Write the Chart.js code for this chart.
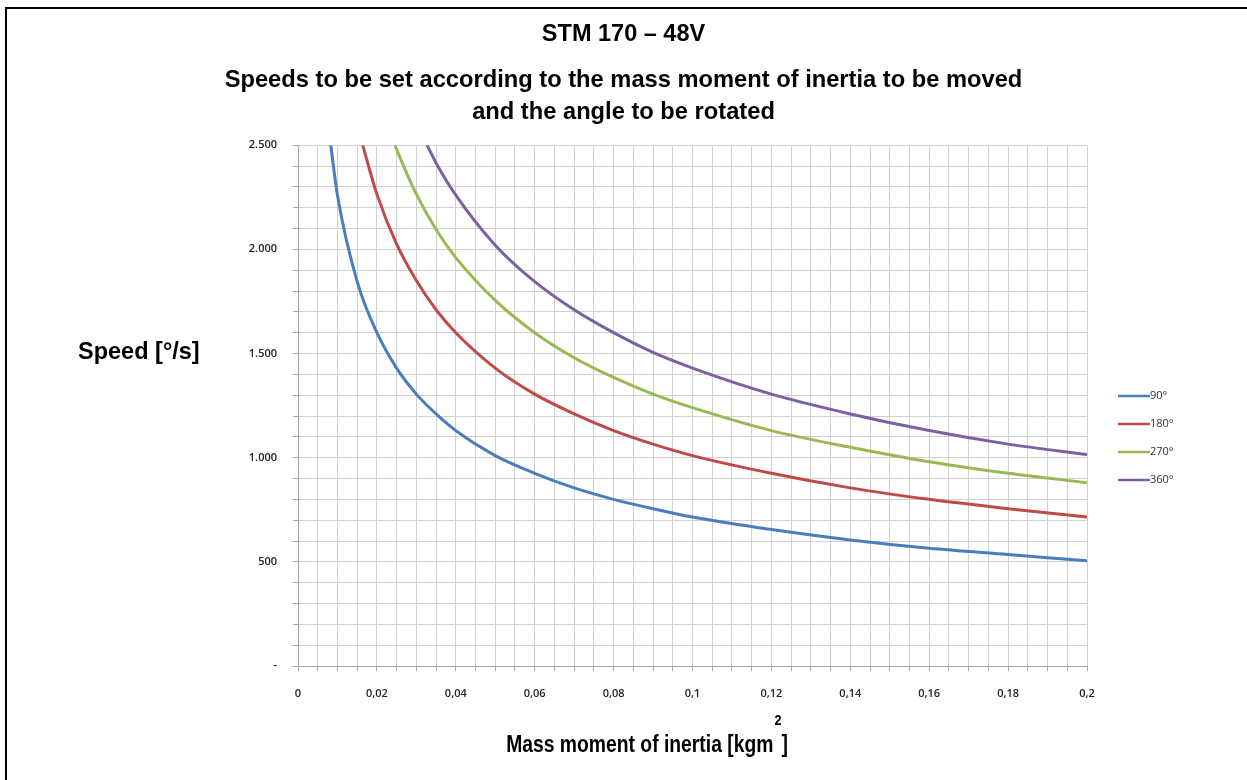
<!DOCTYPE html>
<html>
<head>
<meta charset="utf-8">
<title>STM 170 – 48V</title>
<script src="https://cdn.jsdelivr.net/npm/chart.js@4.4.1/dist/chart.umd.min.js"></script>
<style>
  html, body { margin: 0; padding: 0; background: #fff; }
  #wrap { position: relative; width: 1247px; height: 780px; overflow: hidden; }
  #frame {
    position: absolute; left: 5px; top: 7px; width: 1400px; height: 900px;
    border-top: 2px solid #000; border-left: 2px solid #000; pointer-events: none;
  }
  canvas { position: absolute; left: 0; top: 0; }
</style>
</head>
<body>
<div id="wrap">
  <canvas id="chart" width="1247" height="780"></canvas>
  <div id="frame"></div>
</div>
<script>
// --- Data ---
const inertia = [0.01, 0.015, 0.02, 0.025, 0.03, 0.035, 0.04, 0.05, 0.06, 0.07, 0.08, 0.09, 0.1, 0.12, 0.14, 0.16, 0.18, 0.2];
const speed90 = [2260, 1845, 1600, 1430, 1305, 1210, 1130, 1010, 925, 855, 800, 755, 715, 655, 605, 565, 535, 505];
const speed180 = [null, null, 2265, 2025, 1850, 1710, 1600, 1430, 1305, 1210, 1130, 1065, 1010, 925, 855, 800, 755, 715];
const speed270 = [null, null, null, 2480, 2265, 2095, 1960, 1755, 1600, 1480, 1385, 1305, 1240, 1130, 1050, 980, 925, 880];
const speed360 = [null, null, null, null, null, 2415, 2260, 2020, 1845, 1710, 1600, 1505, 1430, 1305, 1210, 1130, 1065, 1015];
// inertia where each curve comes in at the top of the plot (2.500)
const entryInertia = [0.0083, 0.0164, 0.0246, 0.0327];
const angleLabels = ['90°', '180°', '270°', '360°'];
const lineColors = ['#4a7ebb', '#be4b48', '#98b954', '#7d60a0'];

const SPEED_MAX = 2500;
const TITLE_FONT = "'Liberation Sans', Arial, sans-serif";
const TICK_FONT = "'Open Sans', sans-serif";

function buildPoints(values, entry) {
  const pts = [{ x: entry, y: SPEED_MAX }];
  inertia.forEach((x, i) => {
    if (values[i] != null && x > entry) pts.push({ x: x, y: values[i] });
  });
  return pts;
}

const allSpeeds = [speed90, speed180, speed270, speed360];

// --- Extra text: y title, x title with exponent, legend ---
const extrasPlugin = {
  id: 'extras',
  afterDraw(chart) {
    const ctx = chart.ctx;
    ctx.save();
    ctx.fillStyle = '#000';
    ctx.textBaseline = 'middle';
    ctx.textAlign = 'left';

    // y axis title, horizontal
    ctx.font = 'bold 23.5px ' + TITLE_FONT;
    ctx.fillText('Speed [°/s]', 78, 353);

    // x axis title (narrow) with raised 2
    const a = 'Mass moment of inertia [kgm';
    const b = ']';
    const sx = 0.84;
    ctx.font = 'bold 23px ' + TITLE_FONT;
    const wa = ctx.measureText(a).width * sx;
    const wb = ctx.measureText(b).width * sx;
    const gap = 8;
    const x0 = 647 - (wa + gap + wb) / 2;
    ctx.save();
    ctx.translate(x0, 746);
    ctx.scale(sx, 1);
    ctx.fillText(a, 0, 0);
    ctx.fillText(b, (wa + gap) / sx, 0);
    ctx.font = 'bold 15px ' + TITLE_FONT;
    ctx.fillText('2', (wa + 1) / sx, -25);
    ctx.restore();

    // legend
    ctx.font = '11px ' + TICK_FONT;
    ctx.fillStyle = '#333';
    chart.data.datasets.forEach((ds, i) => {
      const y = 396 + i * 28;
      ctx.strokeStyle = ds.borderColor;
      ctx.lineWidth = 2.5;
      ctx.beginPath();
      ctx.moveTo(1118, y);
      ctx.lineTo(1150, y);
      ctx.stroke();
      ctx.fillText(ds.label, 1150, y);
    });
    ctx.restore();
  },
};

new Chart(document.getElementById('chart'), {
  type: 'line',
  data: {
    datasets: allSpeeds.map((vals, i) => ({
      label: angleLabels[i],
      data: buildPoints(vals, entryInertia[i]),
      borderColor: lineColors[i],
      backgroundColor: lineColors[i],
      borderWidth: 3,
      pointRadius: 0,
      cubicInterpolationMode: 'monotone',
      fill: false,
    })),
  },
  options: {
    responsive: false,
    animation: false,
    events: [],
    layout: { padding: 0 },
    plugins: {
      legend: { display: false },
      tooltip: { enabled: false },
      title: {
        display: true,
        text: 'STM 170 – 48V',
        color: '#000',
        font: { family: TITLE_FONT, size: 23.5, weight: 'bold', lineHeight: 1.2 },
        padding: { top: 20, bottom: 16 },
      },
      subtitle: {
        display: true,
        text: [
          'Speeds to be set according to the mass moment of inertia to be moved',
          'and the angle to be rotated',
        ],
        color: '#000',
        font: { family: TITLE_FONT, size: 23.7, weight: 'bold', lineHeight: 1.35 },
        padding: { top: 0, bottom: 17 },
      },
    },
    scales: {
      x: {
        type: 'linear',
        min: 0,
        max: 0.2,
        border: { color: '#a6a6a6' },
        grid: { color: '#d0d0d0', tickColor: '#a6a6a6', tickLength: 5 },
        ticks: {
          stepSize: 0.005,
          autoSkip: false,
          maxRotation: 0,
          padding: 16,
          color: '#222',
          font: { family: TICK_FONT, size: 11, weight: '600' },
          callback: (v) => {
            const r = Math.round(v * 1000);
            return r % 20 === 0 ? String(r / 1000).replace('.', ',') : '';
          },
        },
        afterFit: (s) => { s.height = 114; },
      },
      y: {
        min: 0,
        max: SPEED_MAX,
        border: { color: '#a6a6a6' },
        grid: { color: '#d0d0d0', tickColor: '#a6a6a6', tickLength: 5 },
        ticks: {
          stepSize: 100,
          autoSkip: false,
          padding: 16,
          color: '#222',
          font: { family: TICK_FONT, size: 11, weight: '600' },
          callback: (v) => {
            if (v % 500 !== 0) return '';
            if (v === 0) return '-';
            return v >= 1000 ? Math.floor(v / 1000) + '.' + String(v % 1000).padStart(3, '0') : String(v);
          },
        },
        afterFit: (s) => { s.width = 298; },
      },
      spacer: {
        position: 'right',
        display: true,
        grid: { display: false, drawTicks: false },
        border: { display: false },
        ticks: { display: false },
        afterFit: (s) => { s.width = 160; },
      },
    },
  },
  plugins: [extrasPlugin],
});
</script>
</body>
</html>
